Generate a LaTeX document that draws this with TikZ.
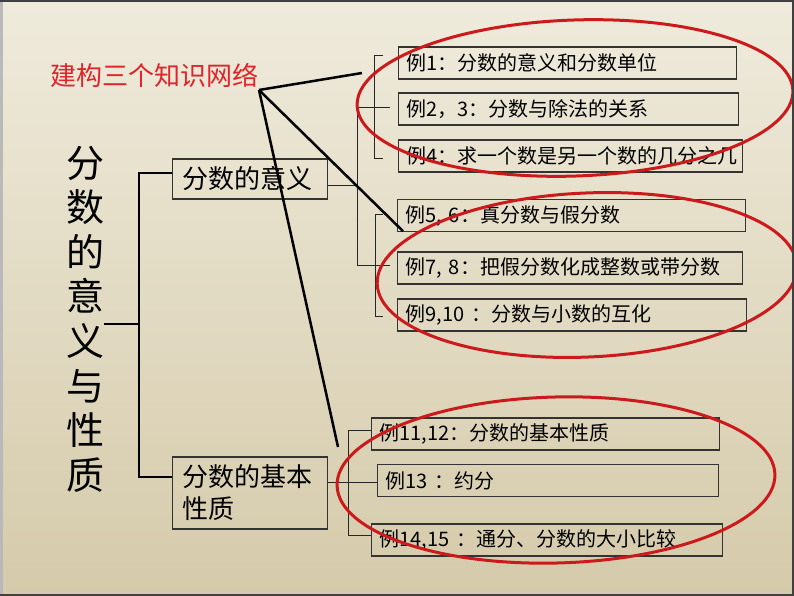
\documentclass[tikz,border=0pt]{standalone}
\usepackage{fontspec}
\usepackage{xcolor}
\usepackage{tikz}
\setmainfont{Noto Sans CJK SC}
\usetikzlibrary{calc}

\definecolor{bgtop}{HTML}{EFEBDC}
\definecolor{bgmid}{HTML}{EBE5D1}
\definecolor{bgbot}{HTML}{D5CAAA}
\definecolor{ringred}{HTML}{CC1A1C}
\definecolor{titlered}{HTML}{E0242A}

\tikzset{
  exbox/.style={draw=black!80, line width=1.3pt, anchor=west, align=left, inner xsep=8pt, inner ysep=0pt, minimum height=32pt, font=\fontsize{20}{24}\selectfont},
  mainbox/.style={draw=black!80, line width=1.3pt, anchor=west, align=left, inner xsep=10pt, text width=135pt, font=\fontsize{26}{32}\selectfont},
  hubline/.style={line width=2.5pt, black},
  branch/.style={line width=2.5pt, black},
  twig/.style={line width=0.9pt, black!85},
  ring/.style={draw=ringred, line width=3pt},
}

\begin{document}
\begin{tikzpicture}[x=1pt, y=-1pt]
\shade[top color=bgtop, middle color=bgmid, bottom color=bgbot] (0,0) rectangle (794,596);
\useasboundingbox (0,0) rectangle (794,596);

\node[font=\fontsize{26}{30}\selectfont, text=titlered] (title) at (154,75) {建构三个知识网络};
\coordinate (hub) at (259,90);
\node[font=\fontsize{38}{44.6}\selectfont, align=center, inner sep=0pt] (vt) at (85,319) {分\\数\\的\\意\\义\\与\\性\\质};

\node[mainbox, minimum height=40pt] (m1) at (172,179) {分数的意义};
\node[mainbox, minimum height=72pt] (m2) at (172,493) {分数的基本\\性质};

\node[exbox, text width=322pt] (e1) at (398,63) {例1：分数的意义和分数单位};
\node[exbox, text width=324pt] (e2) at (398,109) {例2，3：分数与除法的关系};
\node[exbox, text width=328pt] (e3) at (398,156) {例4：求一个数是另一个数的几分之几};
\node[exbox, text width=332pt] (e5) at (397,215.5) {例5, 6：真分数与假分数};
\node[exbox, text width=329pt] (e7) at (397,268) {例7, 8：把假分数化成整数或带分数};
\node[exbox, text width=333pt] (e9) at (397,315) {例9,10 ：分数与小数的互化};
\node[exbox, text width=332pt] (e11) at (371,434) {例11,12：分数的基本性质};
\node[exbox, text width=325pt] (e13) at (377,480.5) {例13 ：约分};
\node[exbox, text width=335pt] (e14) at (371,540) {例14,15 ：通分、分数的大小比较};

\draw[branch] (vt.east |- 0,324) -- (139,324);
\draw[branch] (m1.west |- 0,173) -| (139,324) |- (m2.west |- 0,477);

\draw[twig] (m1.east |- 0,185) -- (357,185);
\draw[twig] (357,107) -- (357,265);
\draw[twig] (357,107) -- (390,107);
\draw[twig] (357,265) -- (390,265);
\draw[twig] (383,55) -- (374,55) -- (374,158) -- (383,158);
\draw[twig] (383,214) -- (375,214) -- (375,316) -- (383,316);

\draw[twig] (m2.east |- 0,482) -- (e13.west |- 0,482);
\draw[twig] (e11.west |- 0,430) -- (348,430) -- (348,535) -- (e14.west |- 0,535);

\coordinate (h1) at (362,73);
\coordinate (h3) at (338,447);
\draw[hubline] (hub) -- (h1);
\draw[hubline] (hub) -- ($(e5.south west)+(6,-1)$);
\draw[hubline] (hub) -- (h3);

\draw[ring, rotate around={2:(575,98)}] (575,98) ellipse [x radius=218, y radius=78];
\draw[ring, rotate around={2.5:(587,275)}] (587,275) ellipse [x radius=210, y radius=82];
\draw[ring, rotate around={1.5:(556,480)}] (556,480) ellipse [x radius=219, y radius=83];

\draw[line width=2pt, black!75] (0,1) -- (794,1);
\draw[line width=2pt, black!75] (793,0) -- (793,596);
\draw[line width=2pt, black!75] (0,595) -- (794,595);
\draw[line width=3pt, gray!55] (1.5,2) -- (1.5,594);
\end{tikzpicture}
\end{document}
